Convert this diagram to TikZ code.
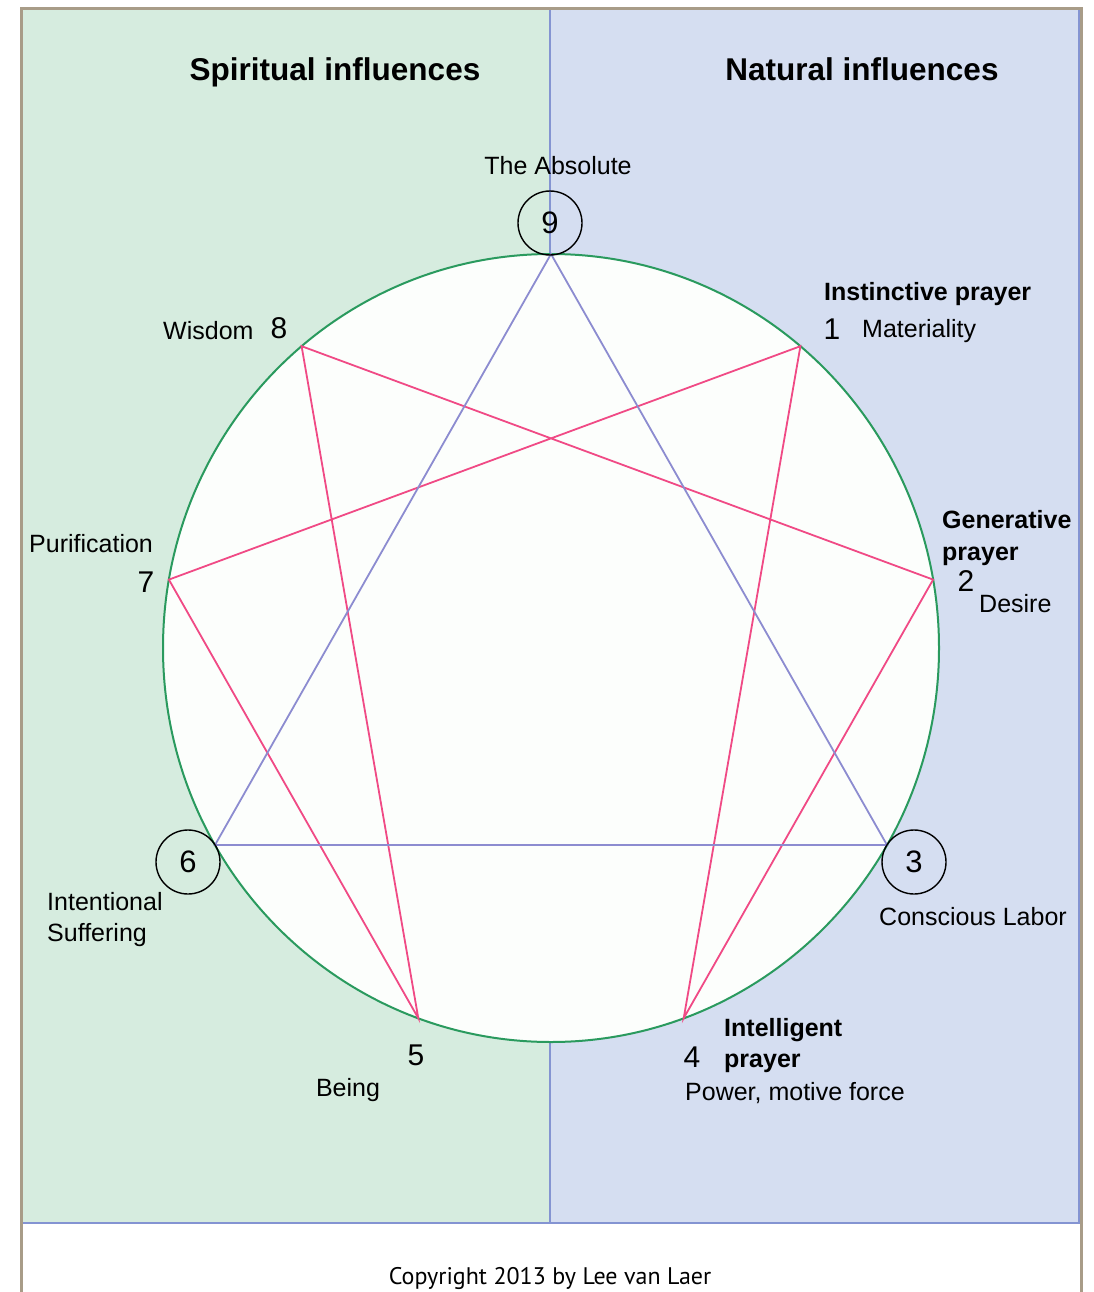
\documentclass[tikz,border=0pt]{standalone}
\usepackage{fontspec}
\setmainfont{Liberation Sans}
\newfontfamily\copyfont{PT Sans}
\definecolor{panelgreen}{HTML}{D6ECDF}
\definecolor{panelblue}{HTML}{D5DEF1}
\definecolor{edgeblue}{HTML}{8494D2}
\definecolor{ringgreen}{HTML}{2A9A5E}
\definecolor{hexpink}{HTML}{F04A85}
\definecolor{tripurple}{HTML}{8C8CD0}
\definecolor{framebrown}{HTML}{A89C88}
\definecolor{innerwhite}{HTML}{FCFEFC}
\begin{document}
\begin{tikzpicture}[x=1pt,y=-1pt,
  lbl/.style={inner sep=0pt,font=\fontsize{25}{30}\selectfont},
  blbl/.style={inner sep=0pt,font=\fontsize{25}{30}\selectfont\bfseries},
  ttl/.style={inner sep=0pt,font=\fontsize{31.5}{36}\selectfont\bfseries},
  num/.style={inner sep=0pt,font=\fontsize{30}{34}\selectfont},
  ringnum/.style={circle,draw=black,line width=1.4pt,minimum size=64pt,inner sep=0pt,font=\fontsize{31}{34}\selectfont},
  hexline/.style={draw=hexpink,line width=1.8pt},
  triline/.style={draw=tripurple,line width=1.8pt}]
\useasboundingbox (0,0) rectangle (1093,1292);
% panels
\fill[panelgreen] (22,10) rectangle (550,1223);
\fill[panelblue] (550,10) rectangle (1080,1223);
\draw[edgeblue,line width=1.8pt] (22,1223) -- (1079,1223) -- (1079,10);
\draw[edgeblue,line width=1.8pt] (550,10) -- (550,1223);
% frame
\draw[framebrown,line width=3pt] (21,1300) -- (21,9) -- (1081,9) -- (1081,1300);
% ring
\draw[ringgreen,line width=2pt,fill=innerwhite] (551,648) ellipse [x radius=388, y radius=394];
% vertices
\coordinate (p0) at (551,254);
\coordinate (p1) at (800.4,346.2);
\coordinate (p2) at (933.1,579.6);
\coordinate (p3) at (887.0,845);
\coordinate (p4) at (683.7,1018.2);
\coordinate (p5) at (418.3,1018.2);
\coordinate (p6) at (215.0,845);
\coordinate (p7) at (168.9,579.6);
\coordinate (p8) at (301.6,346.2);
% hexad
\draw[hexline,line join=miter] (p1) -- (p4) -- (p2) -- (p8) -- (p5) -- (p7) -- cycle;
% triangle
\draw[triline,line join=miter] (p0) -- (p3) -- (p6) -- cycle;
% titles
\node[ttl,anchor=base] (t1) at (335,81) {Spiritual influences};
\node[ttl,anchor=base] (t2) at (862,81) {Natural influences};
% ringed numbers
\node[ringnum] (n9) at (550,223) {9};
\node[ringnum] (n3) at (914,862) {3};
\node[ringnum] (n6) at (188,862) {6};
% labels
\node[lbl,anchor=base] (abs) at (558,175) {The Absolute};
\node[lbl,anchor=base west] (wis) at (163,339) {Wisdom};
\node[num,anchor=base] (n8) at (279,338) {8};
\node[blbl,anchor=base west] (ip) at (824,300) {Instinctive prayer};
\node[num,anchor=base] (n1) at (832,339) {1};
\node[lbl,anchor=base west] (mat) at (862,337) {Materiality};
\node[blbl,anchor=base west] (gen) at (942,528) {Generative};
\node[blbl,anchor=base west] (gp) at (942,560) {prayer};
\node[num,anchor=base] (n2) at (966,591) {2};
\node[lbl,anchor=base west] (des) at (979,612) {Desire};
\node[lbl,anchor=base west] (pur) at (29,552) {Purification};
\node[num,anchor=base] (n7) at (146,592) {7};
\node[lbl,anchor=base west] (int) at (47,910) {Intentional};
\node[lbl,anchor=base west] (suf) at (47,941) {Suffering};
\node[lbl,anchor=base west] (con) at (879,925) {Conscious Labor};
\node[num,anchor=base] (n5) at (416,1065) {5};
\node[lbl,anchor=base] (bei) at (348,1096) {Being};
\node[num,anchor=base] (n4) at (692,1067) {4};
\node[blbl,anchor=base west] (itl) at (724,1036) {Intelligent};
\node[blbl,anchor=base west] (itp) at (724,1067) {prayer};
\node[lbl,anchor=base west] (pow) at (685,1100) {Power, motive force};
\node[inner sep=0pt,anchor=base,font=\copyfont\fontsize{24}{28}\selectfont] (copy) at (550,1284) {Copyright 2013 by Lee van Laer};
\end{tikzpicture}
\end{document}
